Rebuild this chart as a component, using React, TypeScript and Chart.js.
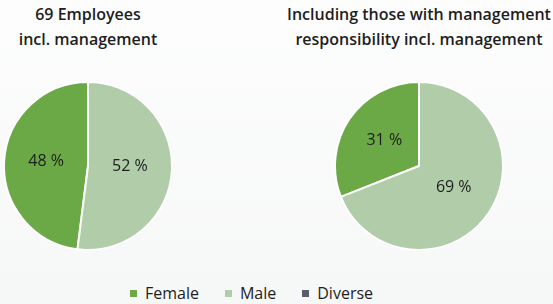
import React, { useEffect, useRef } from "react";
import { Chart, registerables } from "chart.js";

Chart.register(...registerables);

const categories = ["Female", "Male", "Diverse"];
const colors = ["#6aa945", "#b0cca8", "#5c5f6b"];
const employeesValues = [48, 52, 0];
const managementValues = [31, 69, 0];
const employeesTitle = ["69 Employees", "incl. management"];
const managementTitle = ["Including those with management", "responsibility incl. management"];

const FONT = "'Open Sans', 'Noto Sans', sans-serif";

const labelPlugin = {
  id: "sliceLabels",
  afterDatasetsDraw(chart: any) {
    const { ctx } = chart;
    const meta = chart.getDatasetMeta(0);
    const data = chart.data.datasets[0].data as number[];
    ctx.save();
    ctx.font = `16px ${FONT}`;
    ctx.fillStyle = "#1e1e1e";
    ctx.textAlign = "center";
    ctx.textBaseline = "middle";
    meta.data.forEach((arc: any, i: number) => {
      if (!data[i]) return;
      const { x, y, startAngle, endAngle, outerRadius } = arc.getProps(
        ["x", "y", "startAngle", "endAngle", "outerRadius"],
        true
      );
      const mid = (startAngle + endAngle) / 2;
      const r = outerRadius * 0.5;
      ctx.fillText(`${data[i]} %`, x + Math.cos(mid) * r, y + Math.sin(mid) * r - 2);
    });
    ctx.restore();
  },
};

function PieChart({ values, left }: { values: number[]; left: number }) {
  const ref = useRef<HTMLCanvasElement>(null);
  useEffect(() => {
    if (!ref.current) return;
    const total = values.reduce((a, b) => a + b, 0);
    const chart = new Chart(ref.current, {
      type: "pie",
      data: {
        labels: categories,
        datasets: [
          {
            data: values,
            backgroundColor: colors,
            borderColor: "#ffffff",
            borderWidth: 2,
          },
        ],
      },
      options: {
        animation: false,
        responsive: false,
        rotation: -(values[0] / total) * 360,
        layout: { padding: 0 },
        plugins: { legend: { display: false }, tooltip: { enabled: false } },
      },
      plugins: [labelPlugin],
    });
    return () => chart.destroy();
  }, [values]);
  return (
    <canvas
      ref={ref}
      width={170}
      height={170}
      style={{ position: "absolute", left, top: 81, width: 170, height: 170 }}
    />
  );
}

function Title({ lines, center }: { lines: string[]; center: number }) {
  return (
    <div
      style={{
        position: "absolute",
        left: center - 150,
        width: 300,
        top: 2,
        textAlign: "center",
        fontFamily: FONT,
        fontWeight: 600,
        fontSize: 16,
        lineHeight: "25px",
        color: "#1e1e1e",
      }}
    >
      {lines.map((l) => (
        <div key={l}>{l}</div>
      ))}
    </div>
  );
}

export default function App() {
  return (
    <div
      style={{
        position: "fixed",
        left: 0,
        top: 0,
        width: 553,
        height: 304,
        overflow: "hidden",
        background: "linear-gradient(#fdfdfd, #f6f7f7)",
      }}
    >
      <Title lines={employeesTitle} center={88} />
      <Title lines={managementTitle} center={419} />
      <PieChart values={employeesValues} left={3} />
      <PieChart values={managementValues} left={334} />
      <div
        style={{
          position: "absolute",
          left: 0,
          width: 503,
          top: 282,
          display: "flex",
          justifyContent: "center",
          gap: 26,
          fontFamily: FONT,
          fontSize: 16,
          lineHeight: "22px",
          color: "#1e1e1e",
        }}
      >
        {categories.map((c, i) => (
          <div key={c} style={{ display: "flex", alignItems: "center" }}>
            <span
              style={{
                display: "inline-block",
                width: 7,
                height: 7,
                background: colors[i],
                marginRight: 8,
              }}
            />
            {c}
          </div>
        ))}
      </div>
    </div>
  );
}
